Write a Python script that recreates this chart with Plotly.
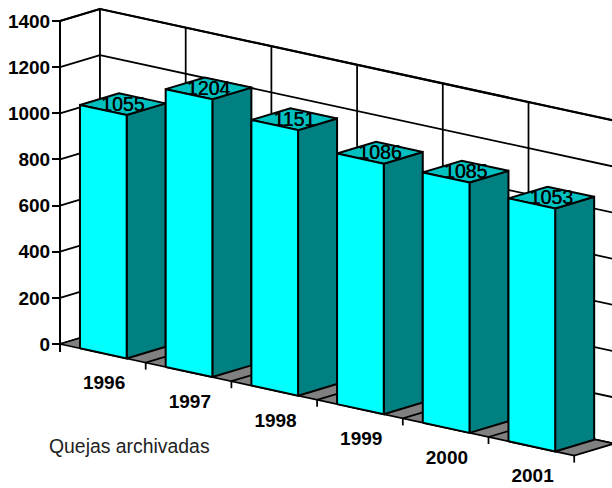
import plotly.graph_objects as go

# Yearly complaint counts
CATEGORIES = ["1996", "1997", "1998", "1999", "2000", "2001"]
VALUES = [1055, 1204, 1151, 1086, 1085, 1053]
VALUE_TICKS = [0, 200, 400, 600, 800, 1000, 1200, 1400]
CAPTION = "Quejas archivadas"

WIDTH, HEIGHT = 612, 488
FONT = "Liberation Sans"

# Scale of the plot axes, in pixels per axis unit
PX_PER_CAT = 85.7
PX_PER_VAL = 323 / 1400
ORIGIN_X, ORIGIN_Y = 60, 344

# Oblique projection: each category steps down the page, depth steps up and right
FALL_PER_CAT = 18.6 / PX_PER_VAL
DEPTH_X = 40 / PX_PER_CAT
DEPTH_Y = 12 / PX_PER_VAL

BAR_START, BAR_WIDTH, BAR_DEPTH = 0.233, 0.545, 0.975


def project(cat, depth, val):
    return cat + depth * DEPTH_X, val - cat * FALL_PER_CAT + depth * DEPTH_Y


def polygon(corners, fill, width=2):
    pts = [project(*c) for c in corners]
    pts.append(pts[0])
    return go.Scatter(
        x=[p[0] for p in pts], y=[p[1] for p in pts], mode="lines",
        fill="toself", fillcolor=fill, line=dict(color="black", width=width),
        hoverinfo="skip", showlegend=False,
    )


def segment(a, b, width=1.75):
    pa, pb = project(*a), project(*b)
    return go.Scatter(
        x=[pa[0], pb[0]], y=[pa[1], pb[1]], mode="lines",
        line=dict(color="black", width=width), hoverinfo="skip", showlegend=False,
    )


fig = go.Figure()
n = len(CATEGORIES)
top = VALUE_TICKS[-1]

# Side and back walls
fig.add_trace(polygon([(0, 0, 0), (0, 1, 0), (0, 1, top), (0, 0, top)], "white", 1.75))
fig.add_trace(polygon([(0, 1, 0), (n, 1, 0), (n, 1, top), (0, 1, top)], "white", 1.75))

# Wall gridlines
for v in VALUE_TICKS[1:]:
    w = 2.25 if v == top else 1.75
    fig.add_trace(segment((0, 0, v), (0, 1, v), w))
    fig.add_trace(segment((0, 1, v), (n, 1, v), w))
for c in range(1, n):
    fig.add_trace(segment((c, 1, 0), (c, 1, top), 1.75))

# Floor with its category lines and ticks
fig.add_trace(polygon([(0, 0, 0), (n, 0, 0), (n, 1, 0), (0, 1, 0)], "#808080", 1.75))
for c in range(1, n):
    fig.add_trace(segment((c, 0, 0), (c, 1, 0), 1.75))
for c in range(n + 1):
    fig.add_trace(segment((c, 0, 0), (c, 0, -7 / PX_PER_VAL), 1.75))

# Left axis line
fig.add_trace(segment((0, 0, -8 / PX_PER_VAL), (0, 0, top), 2))

# Bars, drawn left to right so each one overlaps its neighbour's side
for i, val in enumerate(VALUES):
    x0, x1 = i + BAR_START, i + BAR_START + BAR_WIDTH
    d = BAR_DEPTH
    fig.add_trace(polygon([(x1, 0, 0), (x1, d, 0), (x1, d, val), (x1, 0, val)], "#008080"))
    fig.add_trace(polygon([(x0, 0, val), (x1, 0, val), (x1, d, val), (x0, d, val)], "#00C0C0"))
    fig.add_trace(polygon([(x0, 0, 0), (x1, 0, 0), (x1, 0, val), (x0, 0, val)], "#00FFFF"))

# Value labels centred on each bar's top face
value_pts = [
    project(i + BAR_START + BAR_WIDTH / 2, BAR_DEPTH / 2, v - 1.5 / PX_PER_VAL)
    for i, v in enumerate(VALUES)
]
fig.add_trace(go.Scatter(
    x=[p[0] for p in value_pts], y=[p[1] for p in value_pts], mode="text",
    text=[str(v) for v in VALUES], textposition="middle center",
    textfont=dict(family=FONT, size=19.5, color="black", shadow="0.4px 0 0 black"),
    hoverinfo="skip", showlegend=False,
))

# Category labels below the front edge
cat_pts = [project(i + 0.515, 0, -31 / PX_PER_VAL) for i in range(n)]
fig.add_trace(go.Scatter(
    x=[p[0] for p in cat_pts], y=[p[1] for p in cat_pts], mode="text",
    text=CATEGORIES, textposition="middle center",
    textfont=dict(family=FONT, size=19, color="black", weight=700),
    hoverinfo="skip", showlegend=False,
))

fig.update_layout(
    width=WIDTH, height=HEIGHT, autosize=False,
    margin=dict(l=0, r=0, t=0, b=0),
    paper_bgcolor="white", plot_bgcolor="white",
    xaxis=dict(
        range=[-ORIGIN_X / PX_PER_CAT, (WIDTH - ORIGIN_X) / PX_PER_CAT],
        visible=False, fixedrange=True,
    ),
    yaxis=dict(
        range=[-(HEIGHT - ORIGIN_Y) / PX_PER_VAL, ORIGIN_Y / PX_PER_VAL],
        anchor="free", position=ORIGIN_X / WIDTH, side="left",
        tickmode="array", tickvals=VALUE_TICKS, ticktext=[str(v) for v in VALUE_TICKS],
        ticks="outside", ticklen=8, tickwidth=2, tickcolor="black", ticklabelstandoff=-2,
        tickfont=dict(family=FONT, size=19, color="black", weight=700),
        showgrid=False, zeroline=False, showline=False, fixedrange=True,
    ),
    annotations=[dict(
        text=CAPTION, xref="paper", yref="paper", x=129.5 / WIDTH, y=1 - 445.7 / HEIGHT,
        xanchor="center", yanchor="middle", showarrow=False,
        font=dict(family=FONT, size=19.4, color="#222222"),
    )],
)

fig.write_html("out.html", config=dict(displayModeBar=False))
